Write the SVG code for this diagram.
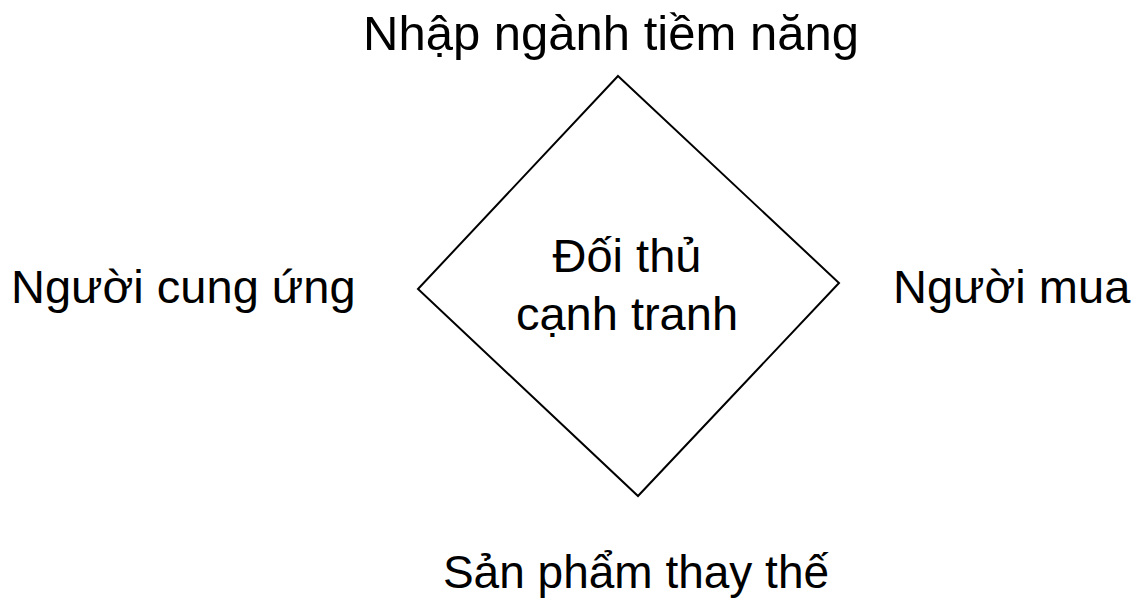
<svg xmlns="http://www.w3.org/2000/svg" width="1137" height="601" viewBox="0 0 1137 601">
<style>
  text { font-family: "Liberation Sans", Arial, sans-serif; font-size: 47px; fill: #000; }
  .shape { fill: #fff; stroke: #000; stroke-width: 2; }
</style>
<rect width="1137" height="601" fill="#fff"/>
<g id="rival">
  <polygon class="shape" points="618,76 839,283 638,496 418,289"/>
  <text x="627" y="272" text-anchor="middle">Đối thủ</text>
  <text x="627" y="330" text-anchor="middle">cạnh tranh</text>
</g>
<g id="entrants"><text x="611" y="50" text-anchor="middle" style="font-size:49px">Nhập ngành tiềm năng</text></g>
<g id="suppliers"><text x="11" y="303">Người cung ứng</text></g>
<g id="buyers"><text x="893" y="303">Người mua</text></g>
<g id="substitutes"><text x="636" y="588" text-anchor="middle" style="font-size:46px">Sản phẩm thay thế</text></g>
<g id="connectors"></g>
</svg>
